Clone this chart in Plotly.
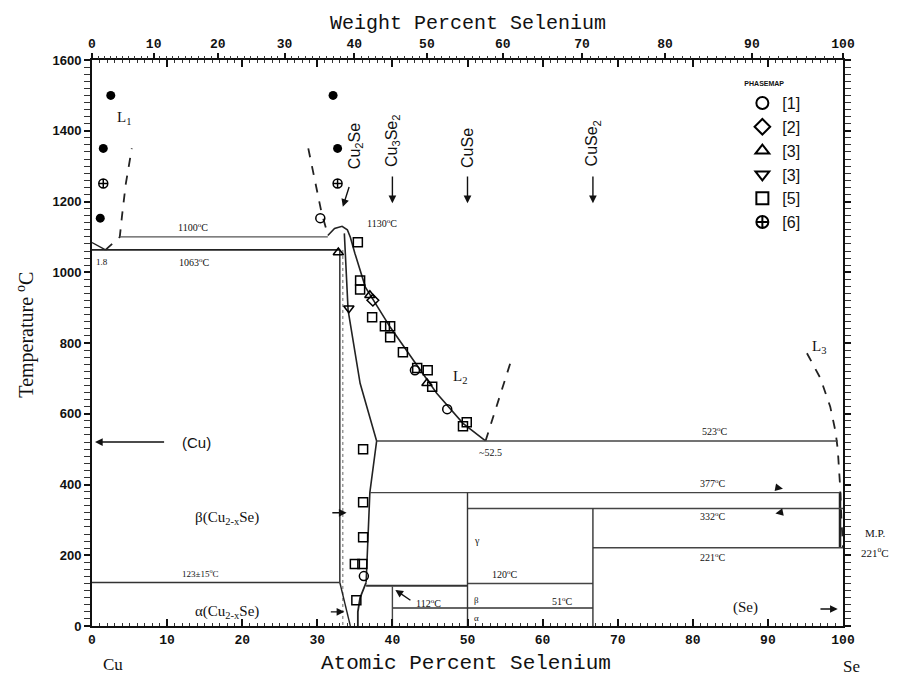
import numpy as np
import plotly.graph_objects as go

# ---------------- axis data ----------------
AT_TICKS = list(range(0, 101, 10))
WT_TICKS = list(range(0, 101, 10))
WT_MINOR = list(range(0, 101, 1))
T_TICKS = list(range(0, 1601, 200))
M_CU, M_SE = 63.546, 78.96


def wt_to_at(w):
    w = np.asarray(w, float)
    se = w / M_SE
    cu = (100.0 - w) / M_CU
    return 100.0 * se / (se + cu)


# ---------------- phase boundaries (at.% Se, deg C) ----------------
cu_liq_x = [0.0, 0.8, 1.8]
cu_liq_t = [1084, 1074, 1063]
l1_left_x = [1.8, 3.7, 4.0, 4.5, 5.3]
l1_left_t = [1063, 1100, 1160, 1250, 1350]
l1_right_x = [28.8, 29.8, 30.6, 31.4]
l1_right_t = [1350, 1250, 1165, 1107]
mono1100_x = [3.7, 31.4]
mono1100_t = [1100, 1100]
eut1063_x = [0.0, 33.0]
eut1063_t = [1063, 1063]
liq2_x = [31.4, 32.3, 33.3, 34.0, 34.4, 35.0, 36.4, 39.7, 42.8, 45.9, 49.4, 52.4]
liq2_t = [1104, 1124, 1130, 1120, 1099, 1054, 958, 845, 751, 658, 573, 523]
beta_left_x = [33.0, 33.0]
beta_left_t = [1063, 123]
beta_right_x = [33.6, 34.1, 35.7, 37.9, 37.0, 36.6, 36.5]
beta_right_t = [1110, 893, 686, 523, 378, 200, 123]
stoich_x = [33.4, 33.4]
stoich_t = [1063, 0]
alpha_left_x = [33.0, 33.5, 34.0, 34.4]
alpha_left_t = [123, 80, 30, 0]
alpha_right_x = [36.5, 35.7, 35.4, 35.4]
alpha_right_t = [123, 80, 40, 0]
l2_right_x = [52.4, 55.7]
l2_right_t = [523, 743]
l3_x = [95.2, 97.0, 98.3, 99.0, 99.3, 99.6, 99.8, 100.0]
l3_t = [771, 700, 620, 550, 500, 400, 300, 221]
se_side_x = [99.6, 99.6]
se_side_t = [377, 221]

iso_523_x = [37.9, 99.3]
iso_377_x = [37.0, 99.6]
iso_332_x = [50.0, 100.0]
iso_221_x = [66.7, 100.0]
iso_123_x = [0.0, 33.0]
iso_112_x = [36.5, 50.0]
iso_120_x = [50.0, 66.7]
iso_51_x = [40.0, 66.7]
v50_t = [0, 377]
v667_t = [0, 332]
v40_t = [0, 112]

# ---------------- experimental data ----------------
sq_x = [35.4, 35.7, 35.7, 37.3, 39.0, 39.7, 39.7, 41.4, 43.3, 44.7, 45.3, 49.4, 49.9,
        36.1, 36.1, 36.1, 35.0, 36.0, 35.2]
sq_t = [1085, 977, 951, 873, 847, 847, 816, 774, 729, 723, 676, 565, 576,
        500, 350, 251, 175, 175, 73]
circ_x = [30.4, 43.0, 47.3, 36.2]
circ_t = [1153, 723, 613, 141]
dia_x = [37.4]
dia_t = [921]
tri_up_x = [32.8, 37.0, 44.6]
tri_up_t = [1056, 935, 686]
tri_dn_x = [34.2]
tri_dn_t = [898]
dot_x = [2.5, 1.5, 1.1, 32.1, 32.7]
dot_t = [1500, 1350, 1153, 1500, 1350]
cross_x = [1.5, 32.7]
cross_t = [1251, 1251]

fig = go.Figure()

LINE = "#222222"


def add_line(x, t, dash="solid", width=1.4, color=LINE):
    fig.add_trace(go.Scatter(x=x, y=t, mode="lines", showlegend=False, hoverinfo="skip",
                             line=dict(color=color, width=width, dash=dash)))


add_line(cu_liq_x, cu_liq_t)
add_line(l1_left_x, l1_left_t, dash="dash", width=1.8)
add_line(l1_right_x, l1_right_t, dash="dash", width=1.8)
add_line(mono1100_x, mono1100_t, color="#555555")
add_line(eut1063_x, eut1063_t, width=1.8)
add_line(liq2_x, liq2_t, width=1.6)
add_line(beta_left_x, beta_left_t, width=1.4)
add_line(beta_right_x, beta_right_t, width=1.6)
add_line(stoich_x, stoich_t, dash="dot", width=1.0, color="#666666")
add_line(alpha_left_x, alpha_left_t)
add_line(alpha_right_x, alpha_right_t, width=1.8)
add_line(l2_right_x, l2_right_t, dash="dash", width=1.8)
add_line(l3_x, l3_t, dash="dash", width=1.8)
add_line(se_side_x, se_side_t, width=2.5)
add_line(iso_523_x, [523, 523], color="#444444")
add_line(iso_377_x, [377, 377], color="#444444")
add_line(iso_332_x, [332, 332], color="#444444")
add_line(iso_221_x, [221, 221], color="#444444")
add_line(iso_123_x, [123, 123], color="#333333", width=1.6)
add_line(iso_112_x, [114, 114], color="#333333", width=2.0)
add_line(iso_120_x, [120, 120], color="#444444")
add_line(iso_51_x, [51, 51], color="#333333", width=1.6)
add_line([50, 50], v50_t, color="#333333")
add_line([66.7, 66.7], v667_t, color="#333333")
add_line([40, 40], v40_t, color="#444444")

fig.add_trace(go.Scatter(x=circ_x, y=circ_t, mode="markers", name="[1]", hoverinfo="skip",
                         marker=dict(symbol="circle-open", size=9, color="black", line=dict(width=1.5))))
fig.add_trace(go.Scatter(x=dia_x, y=dia_t, mode="markers", name="[2]", hoverinfo="skip",
                         marker=dict(symbol="diamond-open", size=9, color="black", line=dict(width=1.5))))
fig.add_trace(go.Scatter(x=tri_up_x, y=tri_up_t, mode="markers", name="[3]", hoverinfo="skip",
                         marker=dict(symbol="triangle-up-open", size=9, color="black", line=dict(width=1.5))))
fig.add_trace(go.Scatter(x=tri_dn_x, y=tri_dn_t, mode="markers", name="[3] ", hoverinfo="skip",
                         marker=dict(symbol="triangle-down-open", size=9, color="black", line=dict(width=1.5))))
fig.add_trace(go.Scatter(x=sq_x, y=sq_t, mode="markers", name="[5]", hoverinfo="skip",
                         marker=dict(symbol="square-open", size=9, color="black", line=dict(width=1.5))))
fig.add_trace(go.Scatter(x=cross_x, y=cross_t, mode="markers", name="[6]", hoverinfo="skip",
                         marker=dict(symbol="circle-cross-open", size=9, color="black", line=dict(width=1.5))))
fig.add_trace(go.Scatter(x=dot_x, y=dot_t, mode="markers", showlegend=False, hoverinfo="skip",
                         marker=dict(symbol="circle", size=9, color="black")))

# invisible trace to carry the top (weight percent) axis
fig.add_trace(go.Scatter(x=[0, 100], y=[0, 0], xaxis="x2", mode="markers", showlegend=False,
                         hoverinfo="skip", marker=dict(opacity=0)))

SERIF = "Liberation Serif"
SANS = "Liberation Sans"
MONO = "Liberation Mono"

labels = [
    ("L<sub>1</sub>", 4.3, 1435, 15, SERIF),
    ("1100<sup>o</sup>C", 13.5, 1129, 10, SERIF),
    ("1063<sup>o</sup>C", 13.7, 1028, 10, SERIF),
    ("1.8", 1.3, 1028, 9, SERIF),
    ("1130<sup>o</sup>C", 38.6, 1140, 10, SERIF),
    ("L<sub>2</sub>", 49.0, 705, 15, SERIF),
    ("~52.5", 53.0, 490, 10, SERIF),
    ("L<sub>3</sub>", 96.8, 790, 15, SERIF),
    ("(Cu)", 13.9, 520, 15, SANS),
    ("\u03b2(Cu<sub>2-x</sub>Se)", 18.0, 305, 15, SERIF),
    ("\u03b1(Cu<sub>2-x</sub>Se)", 18.0, 40, 15, SERIF),
    ("123\u00b115<sup>o</sup>C", 14.4, 150, 9, SERIF),
    ("112<sup>o</sup>C", 44.8, 65, 10, SERIF),
    ("120<sup>o</sup>C", 55.0, 146, 10, SERIF),
    ("51<sup>o</sup>C", 62.6, 70, 10, SERIF),
    ("\u03b3", 51.3, 243, 10, SERIF),
    ("\u03b2", 51.2, 73, 9, SERIF),
    ("\u03b1", 51.2, 22, 9, SERIF),
    ("523<sup>o</sup>C", 83.0, 550, 10, SERIF),
    ("377<sup>o</sup>C", 82.7, 405, 10, SERIF),
    ("332<sup>o</sup>C", 82.7, 311, 10, SERIF),
    ("221<sup>o</sup>C", 82.7, 195, 10, SERIF),
    ("(Se)", 87.0, 52, 15, SERIF),
]
ann = []
for txt, x, t, size, fam in labels:
    ann.append(dict(x=x, y=t, xref="x", yref="y", text=txt, showarrow=False,
                    xanchor="center", yanchor="middle",
                    font=dict(family=fam, size=size, color="#111")))

compounds = [
    ("Cu<sub>2</sub>Se", 35.0, 1356),
    ("Cu<sub>3</sub>Se<sub>2</sub>", 40.0, 1372),
    ("CuSe", 50.0, 1350),
    ("CuSe<sub>2</sub>", 66.7, 1364),
]
for txt, x, t in compounds:
    ann.append(dict(x=x, y=t, xref="x", yref="y", text=txt, showarrow=False, textangle=-90,
                    xanchor="center", yanchor="middle",
                    font=dict(family=SANS, size=16, color="#111")))

arrows = [
    # tip_x, tip_t, tail_x, tail_t
    (33.4, 1185, 34.3, 1245),
    (40.0, 1195, 40.0, 1275),
    (50.0, 1195, 50.0, 1275),
    (66.7, 1195, 66.7, 1275),
    (0.4, 520, 9.8, 520),
    (33.9, 320, 31.8, 320),
    (33.6, 40, 31.6, 40),
    (40.4, 102, 42.6, 70),
    (99.3, 48, 96.8, 48),
    (92.0, 388, 91.0, 392),
    (91.0, 318, 92.0, 322),
]
for tx, tt, sx, st in arrows:
    ann.append(dict(x=tx, y=tt, ax=sx, ay=st, xref="x", yref="y", axref="x", ayref="y",
                    text="", showarrow=True, arrowhead=2, arrowsize=1.1, arrowwidth=1.4,
                    arrowcolor="#111"))


def paper_text(txt, x, y, size, fam, yref="paper", angle=0, yanchor="middle"):
    return dict(x=x, y=y, xref="paper", yref=yref, text=txt, showarrow=False,
                xanchor="center", yanchor=yanchor, textangle=angle,
                font=dict(family=fam, size=size, color="#111"))


ann += [
    paper_text("Weight Percent Selenium", 0.501, 1.089, 20, MONO, yanchor="top"),
    paper_text("Atomic Percent Selenium", 0.498, -0.067, 21, MONO),
    paper_text("Temperature <sup>o</sup>C", -0.089, 0.515, 20, SERIF, angle=-90),
    paper_text("Cu", 0.028, -0.068, 17, SERIF),
    paper_text("Se", 1.011, -0.071, 17, SERIF),
    paper_text("M.P.", 1.043, 263, 11, SERIF, yref="y"),
    paper_text("221<sup>o</sup>C", 1.042, 209, 11, SERIF, yref="y"),
]

TICKFONT = dict(family=MONO, size=13, color="#111", weight="bold")

fig.update_layout(
    width=890, height=672,
    margin=dict(l=84, r=55, t=52, b=54),
    plot_bgcolor="white", paper_bgcolor="white",
    showlegend=True,
    legend=dict(x=0.866, y=0.970, xanchor="left", yanchor="top",
                bgcolor="rgba(255,255,255,0)", borderwidth=0,
                font=dict(family=SANS, size=16, color="#111"),
                title=dict(text="PHASEMAP", font=dict(family=SANS, size=7, color="#111", weight="bold")),
                itemsizing="constant", tracegroupgap=0),
    annotations=ann,
    xaxis=dict(range=[0, 100], tickvals=AT_TICKS, ticktext=[str(v) for v in AT_TICKS],
               showgrid=False, zeroline=False, showline=True, linecolor="#111", linewidth=2,
               mirror="allticks", ticks="inside", ticklen=7, tickwidth=1.5, tickcolor="#111",
               tickfont=TICKFONT,
               minor=dict(dtick=1, ticks="inside", ticklen=3, tickwidth=1, tickcolor="#333")),
    xaxis2=dict(range=[0, 100], overlaying="x", side="top", anchor="y",
                tickmode="array", tickvals=list(wt_to_at(WT_TICKS)),
                ticktext=[str(v) for v in WT_TICKS],
                showgrid=False, zeroline=False, showline=False,
                ticks="outside", ticklen=6, tickwidth=1.5, tickcolor="#111",
                tickfont=TICKFONT,
                minor=dict(tickmode="array", tickvals=list(wt_to_at(WT_MINOR)),
                           ticks="outside", ticklen=3, tickwidth=1, tickcolor="#333")),
    yaxis=dict(range=[0, 1600], tickvals=T_TICKS, ticktext=[str(v) for v in T_TICKS],
               showgrid=False, zeroline=False, showline=True, linecolor="#111", linewidth=2,
               mirror="allticks", ticks="outside", ticklen=6, tickwidth=1.5, tickcolor="#111",
               tickfont=dict(family=SANS, size=13, color="#111", weight="bold"),
               minor=dict(dtick=20, ticks="outside", ticklen=3, tickwidth=1, tickcolor="#333")),
)

fig.write_html("out.html")
